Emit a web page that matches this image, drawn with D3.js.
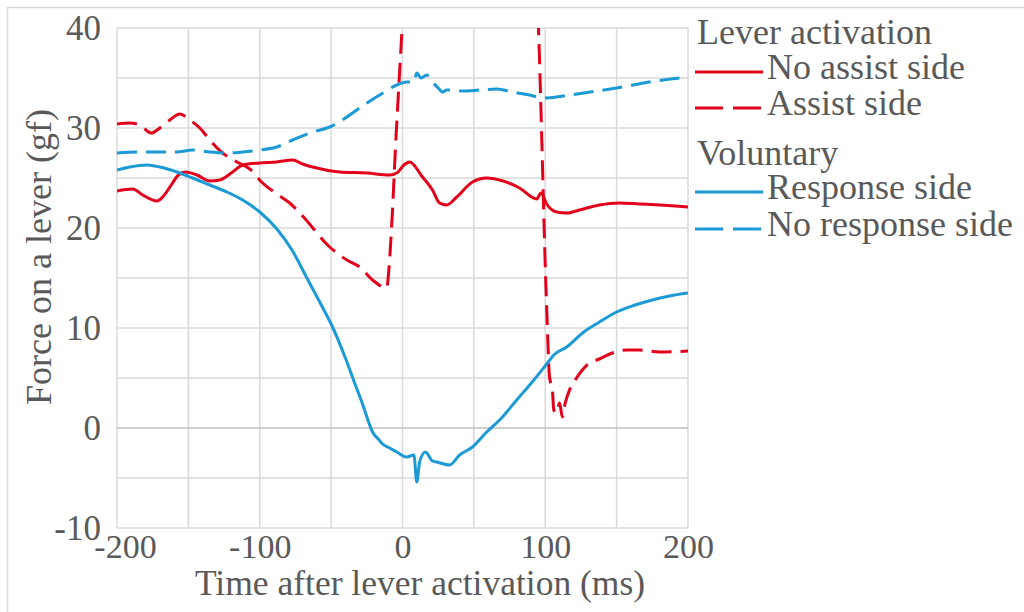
<!DOCTYPE html>
<html><head><meta charset="utf-8">
<script src="https://cdn.jsdelivr.net/npm/d3@7"></script>
<style>
html,body{margin:0;padding:0;background:#fff;}
text{font-family:"Liberation Serif","Times New Roman",serif;fill:#595959;}
</style></head>
<body><svg id="chart" width="1024" height="612"></svg>
<script>
// ---- data (time in ms, force in gf) ----
const xTicks = [-200, -100, 0, 100, 200];
const yTicks = [-10, 0, 10, 20, 30, 40];
const seriesNames = ["No assist side", "Assist side", "Response side", "No response side"];
const groupNames = ["Lever activation", "Voluntary"];

const noAssistT = [-200,-189,-182,-172,-168,-162,-157,-152,-144,-135,-128,-119,-112,-100,-88,-77,-70,-60,-44,-25,-9,-4,1,5,14,21,26,31,38,49,59,68,82,94,97,101,108,115,124,138,152,166,180,200];
const noAssistV = [23.7,23.9,23.3,22.7,23.1,24.3,25.3,25.6,25.3,24.7,24.8,25.6,26.3,26.5,26.6,26.8,26.4,26.0,25.6,25.5,25.3,25.5,26.3,26.6,25.1,23.8,22.5,22.3,23.1,24.6,25.0,24.8,24.0,22.9,23.5,22.4,21.6,21.5,21.8,22.3,22.5,22.4,22.3,22.1];

const assistT = [-200,-191,-184,-176,-170,-163,-156,-149,-142,-135,-126,-116,-107,-98,-88,-79,-70,-51,-39,-30,-21,-11,-10,-7,-5,0,5,90,95,101,103,105,106,108,110,112,114,117,121,126,131,138,147,157,166,180,200];
const assistV = [30.4,30.5,30.3,29.5,30.0,30.8,31.4,30.8,30.0,28.8,27.5,26.6,25.9,24.5,23.4,22.5,21.2,18.1,16.8,16.1,14.8,14.0,15.1,21.8,27.8,40.8,55,55,41,12,5.1,3.8,1.8,1.5,2.5,1.1,2.5,3.8,4.8,5.8,6.5,6.9,7.5,7.8,7.8,7.6,7.7];

const responseT = [-200,-191,-179,-170,-158,-147,-135,-123,-112,-100,-88,-77,-67,-58,-49,-40,-33,-28,-24,-21,-17,-14,-9,-4,3,8,10,12,16,21,24,33,40,49,59,68,80,92,101,106,115,127,138,150,163,175,187,200];
const responseV = [25.8,26.1,26.3,26.1,25.6,25.0,24.3,23.6,22.8,21.6,19.9,17.7,15.0,12.6,10.1,7.0,4.3,2.4,0.7,-0.4,-1.1,-1.6,-2.0,-2.4,-2.9,-2.7,-5.4,-3.4,-2.4,-3.3,-3.4,-3.7,-2.7,-1.9,-0.4,0.8,2.8,4.8,6.4,7.3,8.1,9.6,10.6,11.6,12.3,12.8,13.2,13.5];

const noResponseT = [-200,-182,-158,-147,-135,-123,-112,-100,-88,-77,-65,-51,-25,-16,-4,3,8,10,13,17,21,25,28,31,42,54,66,77,89,98,108,117,127,150,173,200];
const noResponseV = [27.5,27.6,27.6,27.8,27.6,27.5,27.6,27.8,28.1,28.8,29.5,30.1,32.5,33.3,34.3,34.6,34.6,35.5,35.0,35.3,34.6,34.0,33.6,33.8,33.7,33.8,33.9,33.6,33.3,33.0,33.1,33.3,33.5,34.0,34.6,35.1];

const RED = "#e2001a", BLUE = "#1b9ad6";
const series = [
  {name: seriesNames[0], t: noAssistT, v: noAssistV, color: RED, dash: null},
  {name: seriesNames[1], t: assistT, v: assistV, color: RED, dash: "20,9"},
  {name: seriesNames[2], t: responseT, v: responseV, color: BLUE, dash: null},
  {name: seriesNames[3], t: noResponseT, v: noResponseV, color: BLUE, dash: "20,9"}
];

// ---- layout ----
const svg = d3.select("#chart");
const L = 117, R = 688, T = 28, B = 528;
const x = d3.scaleLinear().domain([-200, 200]).range([L, R]);
const y = d3.scaleLinear().domain([-10, 40]).range([B, T]);

// outer border
svg.append("rect").attr("x", 7.5).attr("y", 7.5).attr("width", 1040).attr("height", 640)
  .attr("fill", "none").attr("stroke", "#d9d9d9").attr("stroke-width", 1.5);

// gridlines
const g = svg.append("g");
d3.range(-200, 201, 50).forEach(t => {
  g.append("line").attr("x1", x(t)).attr("x2", x(t)).attr("y1", T).attr("y2", B)
    .attr("stroke", "#d9d9d9").attr("stroke-width", 1.5);
});
d3.range(-10, 41, 5).forEach(v => {
  g.append("line").attr("x1", L).attr("x2", R).attr("y1", y(v)).attr("y2", y(v))
    .attr("stroke", v === 0 ? "#bfbfbf" : "#d9d9d9").attr("stroke-width", 1.5);
});

// axes (text via d3 axis)
const fmt = d => String(d);
const xAxis = svg.append("g").attr("transform", `translate(0,${B})`)
  .call(d3.axisBottom(x).tickValues(xTicks).tickSize(0).tickPadding(6).tickFormat(fmt));
xAxis.select(".domain").remove();
xAxis.selectAll("text").attr("font-size", 34).attr("fill", "#595959")
  .attr("font-family", "Liberation Serif")
  .attr("dx", d => d === -200 ? 8 : 0);

const yAxis = svg.append("g").attr("transform", `translate(${L},0)`)
  .call(d3.axisLeft(y).tickValues(yTicks).tickSize(0).tickPadding(16).tickFormat(fmt));
yAxis.select(".domain").remove();
yAxis.selectAll("text").attr("font-size", 35).attr("fill", "#595959")
  .attr("font-family", "Liberation Serif");

// axis titles
svg.append("text").attr("x", 420).attr("y", 595).attr("text-anchor", "middle")
  .attr("font-size", 35.5).text("Time after lever activation (ms)");
svg.append("text").attr("transform", "translate(51,257) rotate(-90)").attr("text-anchor", "middle")
  .attr("font-size", 36).text("Force on a lever (gf)");

// clip
svg.append("clipPath").attr("id", "clip").append("rect")
  .attr("x", L).attr("y", T).attr("width", R - L).attr("height", B - T);

const line = d3.line().x(d => x(d[0])).y(d => y(d[1])).curve(d3.curveMonotoneX);
const plot = svg.append("g").attr("clip-path", "url(#clip)");
series.forEach(s => {
  const pts = s.t.map((t, i) => [t, s.v[i]]);
  plot.append("path").datum(pts).attr("d", line)
    .attr("fill", "none").attr("stroke", s.color).attr("stroke-width", 3)
    .attr("stroke-linejoin", "round")
    .attr("stroke-dasharray", s.dash);
});

// legend
const leg = svg.append("g");
const rows = [
  {type: "h", text: groupNames[0], y: 44},
  {type: "s", s: series[0], y: 79},
  {type: "s", s: series[1], y: 115},
  {type: "h", text: groupNames[1], y: 165},
  {type: "s", s: series[2], y: 199},
  {type: "s", s: series[3], y: 236}
];
rows.forEach(r => {
  if (r.type === "h") {
    leg.append("text").attr("x", 697).attr("y", r.y).attr("font-size", 36).text(r.text);
  } else {
    leg.append("line").attr("x1", 695).attr("x2", 763).attr("y1", r.y - 7).attr("y2", r.y - 7)
      .attr("stroke", r.s.color).attr("stroke-width", 3)
      .attr("stroke-dasharray", r.s.dash ? "28,10" : null);
    leg.append("text").attr("x", 767).attr("y", r.y).attr("font-size", 36).text(r.s.name);
  }
});
</script></body></html>
